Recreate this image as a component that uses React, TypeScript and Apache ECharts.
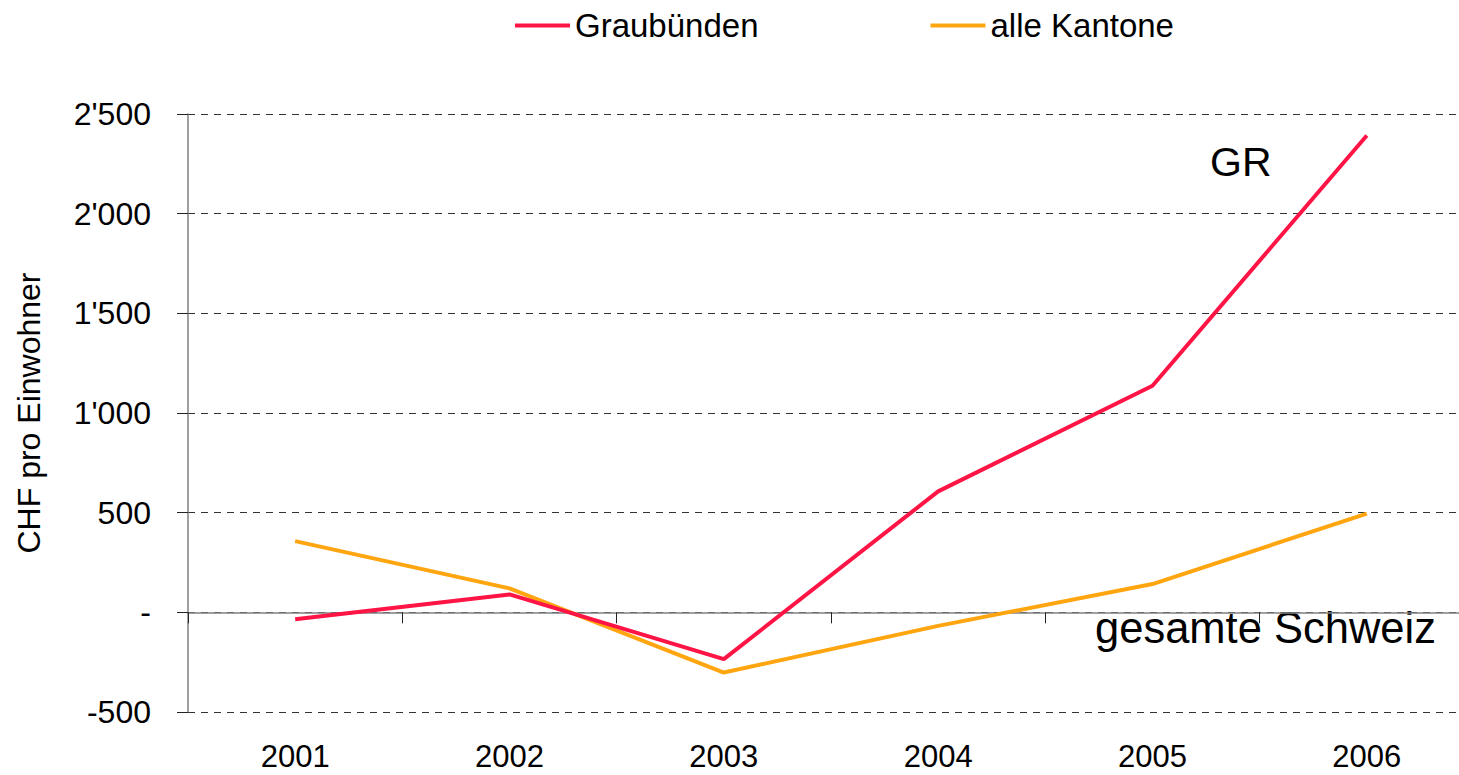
import React, { useEffect, useRef } from "react";
import * as echarts from "echarts";

const categories = ["2001", "2002", "2003", "2004", "2005", "2006"];
const graubuenden = [-35, 90, -235, 607, 1137, 2392];
const alleKantone = [357, 120, -302, -68, 142, 495];
const seriesNames = ["Graubünden", "alle Kantone"];
const yTitle = "CHF pro Einwohner";
const annotationGR = "GR";
const annotationCH = "gesamte Schweiz";

const FONT = "Liberation Sans, Arial, sans-serif";

function fmt(v: number): string {
  if (v === 0) return "-";
  const neg = v < 0;
  const s = String(Math.abs(v));
  const withSep = s.replace(/\B(?=(\d{3})+(?!\d))/g, "'");
  return (neg ? "-" : "") + withSep;
}

export default function App() {
  const ref = useRef<HTMLDivElement>(null);
  useEffect(() => {
    document.body.style.margin = "0";
    document.body.style.overflow = "hidden";
    document.documentElement.style.overflow = "hidden";
    if (!ref.current) return;
    const chart = echarts.init(ref.current, null, { renderer: "svg" });
    chart.setOption({
      animation: false,
      textStyle: { fontFamily: FONT },
      legend: {
        left: 515,
        top: 9,
        padding: 0,
        itemWidth: 55,
        itemHeight: 4,
        itemGap: 172,
        icon: "rect",
        textStyle: { fontSize: 33, color: "#000", fontFamily: FONT },
        data: seriesNames,
      },
      grid: { left: 188, top: 114, width: 1286, height: 598 },
      xAxis: [
        {
          type: "category",
          data: categories,
          position: "bottom",
          boundaryGap: true,
          axisLine: { show: false, onZero: false },
          axisTick: { show: false },
          axisLabel: {
            fontSize: 31,
            lineHeight: 26,
            color: "#000",
            margin: 31,
            fontFamily: FONT,
          },
          splitLine: { show: false },
        },
        {
          type: "category",
          data: categories,
          position: "top",
          boundaryGap: true,
          axisLine: { show: true, onZero: true, lineStyle: { color: "#808080", width: 1.5 } },
          axisTick: { show: true, inside: true, length: 11, lineStyle: { color: "#222", width: 1 } },
          axisLabel: { show: false },
          splitLine: { show: false },
        },
      ],
      yAxis: {
        type: "value",
        min: -500,
        max: 2500,
        interval: 500,
        name: yTitle,
        nameLocation: "middle",
        nameGap: 143,
        nameTextStyle: { fontSize: 32, color: "#000", fontFamily: FONT },
        axisLine: { show: true, lineStyle: { color: "#808080", width: 1.5 } },
        axisTick: { show: true, length: 11, lineStyle: { color: "#222" } },
        axisLabel: {
          fontSize: 32,
          color: "#000",
          margin: 37,
          fontFamily: FONT,
          formatter: (v: number) => fmt(v),
        },
        splitLine: { show: true, lineStyle: { color: "#333", type: [7, 6], width: 1 } },
      },
      series: [
        {
          name: seriesNames[0],
          type: "line",
          data: graubuenden,
          symbol: "none",
          lineStyle: { color: "#FF1446", width: 4 },
          itemStyle: { color: "#FF1446" },
          z: 3,
        },
        {
          name: seriesNames[1],
          type: "line",
          data: alleKantone,
          symbol: "none",
          lineStyle: { color: "#FFA510", width: 4 },
          itemStyle: { color: "#FFA510" },
          z: 2,
        },
      ],
      graphic: [
        {
          type: "text",
          left: 1210,
          top: 141,
          style: { text: annotationGR, fontSize: 41, fill: "#000", fontFamily: FONT },
        },
        {
          type: "text",
          left: 1095,
          top: 606,
          style: { text: annotationCH, fontSize: 43.5, fill: "#000", fontFamily: FONT },
        },
      ],
    });
    return () => chart.dispose();
  }, []);
  return (
    <div style={{ width: 1459, height: 775, overflow: "hidden" }}>
      <div ref={ref} style={{ width: 1490, height: 775 }} />
    </div>
  );
}
